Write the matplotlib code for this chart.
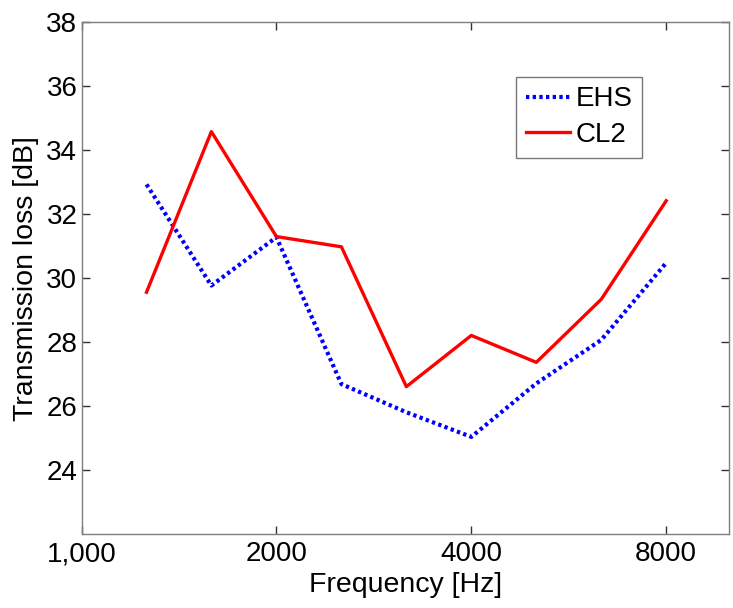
import matplotlib
matplotlib.use("Agg")
import matplotlib.pyplot as plt
from matplotlib.ticker import FixedLocator, FixedFormatter, NullLocator

plt.rcParams['font.family'] = ['Liberation Sans', 'DejaVu Sans']

# One-third-octave band centre frequencies [Hz]
freq = [1260, 1587, 2000, 2520, 3175, 4000, 5040, 6350, 8000]
ehs = [32.94, 29.78, 31.29, 26.70, 25.82, 25.05, 26.72, 28.08, 30.49]
cl2 = [29.57, 34.59, 31.31, 30.99, 26.62, 28.22, 27.38, 29.35, 32.43]

xticks = [1000, 2000, 4000, 8000]
xtick_labels = ["1,000", "2000", "4000", "8000"]
yticks = [24, 26, 28, 30, 32, 34, 36, 38]

fig = plt.figure(figsize=(7.33, 6.08), dpi=100)
ax = fig.add_axes([0.1112, 0.1209, 0.8833, 0.8421])

ax.plot(freq, ehs, color='#0000ff', linestyle=(0, (0.8, 0.8)), linewidth=3.0, label='EHS')
ax.plot(freq, cl2, color='#ff0000', linestyle='-', linewidth=2.4, label='CL2')

ax.set_xscale('log')
ax.set_xlim(1000, 10000)
ax.set_ylim(22, 38)
ax.xaxis.set_major_locator(FixedLocator(xticks))
ax.xaxis.set_major_formatter(FixedFormatter(xtick_labels))
ax.xaxis.set_minor_locator(NullLocator())
ax.set_yticks(yticks)

ax.tick_params(axis='both', which='major', direction='in', length=6, width=1,
               top=True, right=True, labelsize=20, color='#333333')
ax.tick_params(axis='y', pad=3)
ax.tick_params(axis='x', pad=5)
for sp in ax.spines.values():
    sp.set_color('#7f7f7f')
    sp.set_linewidth(1.0)

ax.set_xlabel('Frequency [Hz]', fontsize=20.5, labelpad=3)
ax.set_ylabel('Transmission loss [dB]', fontsize=20.5, labelpad=5)

leg = ax.legend(loc='upper left', bbox_to_anchor=(0.671, 0.894), fontsize=20,
                frameon=True, fancybox=False, handlelength=1.6, handletextpad=0.2,
                borderpad=0.35, labelspacing=0.35, borderaxespad=0)
leg.get_frame().set_edgecolor('#555555')
leg.get_frame().set_linewidth(1.0)

fig.savefig('out.png', dpi=100)
